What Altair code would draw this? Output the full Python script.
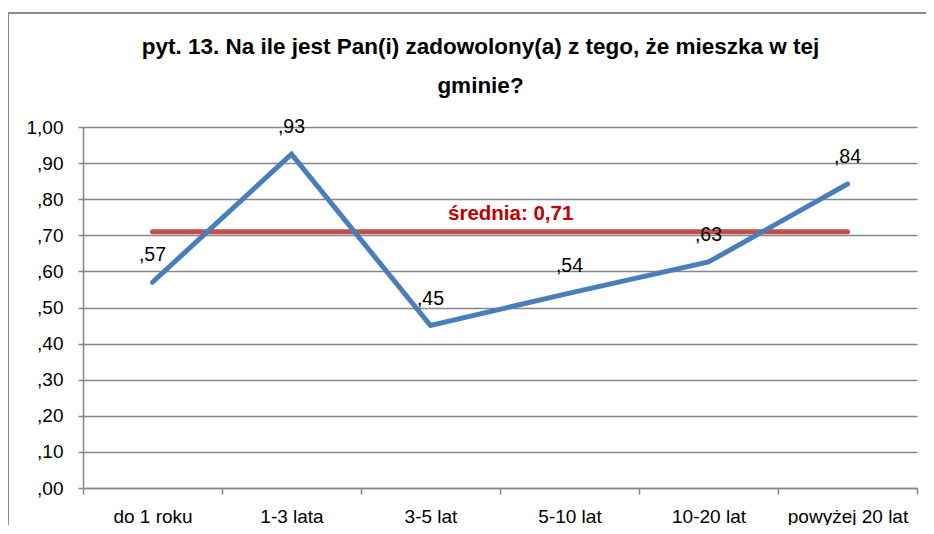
import altair as alt
import pandas as pd

categories = ["do 1 roku", "1-3 lata", "3-5 lat", "5-10 lat", "10-20 lat", "powyżej 20 lat"]
values = [0.57, 0.925, 0.45, 0.54, 0.626, 0.842]
average = 0.71
avg_text = "średnia: 0,71"
title_lines = ["pyt. 13. Na ile jest Pan(i) zadowolony(a) z tego, że mieszka w tej", "gminie?"]
y_ticks = [0.0, 0.1, 0.2, 0.3, 0.4, 0.5, 0.6, 0.7, 0.8, 0.9, 1.0]

FONT = "Liberation Sans"
GRAY = "#878787"

df = pd.DataFrame({
    "cat": categories,
    "val": values,
    "avg": [average] * len(categories),
    "lab": ["," + f"{v:.2f}".split(".")[1] for v in values],
})
df_avg_lab = pd.DataFrame({"cat": ["3-5 lat"], "avg": [average], "t": [avg_text]})
df_one = pd.DataFrame({"k": [0]})

x_axis = alt.Axis(
    title=None, labelAngle=0, tickBand="extent", domainColor=GRAY, domainWidth=1.5,
    tickColor=GRAY, tickWidth=1.5, tickSize=6, labelPadding=13, labelOverlap=False,
    labelFont=FONT, labelFontSize=19, labelColor="#000000",
)
x_scale = alt.Scale(paddingInner=0, paddingOuter=0)
y_axis = alt.Axis(
    title=None, values=y_ticks, grid=True, gridColor=GRAY, gridWidth=1.5,
    domainColor=GRAY, domainWidth=1.5, tickColor=GRAY, tickWidth=1.5, tickSize=5,
    labelPadding=15, labelFont=FONT, labelFontSize=19, labelColor="#000000",
    labelOverlap=False, labelFlush=False,
    labelExpr="datum.value >= 1 ? '1,00' : slice(replace(format(datum.value, '.2f'), '.', ','), 1)",
)
y_scale = alt.Scale(domain=[0, 1], nice=False, zero=True)


def X():
    return alt.X("cat:N", sort=categories, scale=x_scale, axis=x_axis)


def Y(field):
    return alt.Y(field, scale=y_scale, axis=y_axis)


avg_line = alt.Chart(df).mark_line(color="#C0504D", strokeWidth=5, strokeCap="round").encode(
    x=X(), y=Y("avg:Q")
)
main_line = alt.Chart(df).mark_line(color="#4A7EBB", strokeWidth=5, strokeCap="round", strokeJoin="miter").encode(
    x=X(), y=Y("val:Q")
)
value_labels = alt.Chart(df).mark_text(
    baseline="alphabetic", dy=-21, font=FONT, fontSize=19.5, color="#000000"
).encode(x=X(), y=Y("val:Q"), text="lab:N")
avg_label = alt.Chart(df_avg_lab).mark_text(
    align="left", baseline="alphabetic", dx=17.5, dy=-12, font=FONT, fontSize=20.5,
    fontWeight="bold", color="#C00000",
).encode(x=X(), y=Y("avg:Q"), text="t:N")

border_left = alt.Chart(df_one).mark_rule(color="#8a8a8a", strokeWidth=2).encode(
    x=alt.value(-75), y=alt.value(-114), y2=alt.value(420)
)
border_top = alt.Chart(df_one).mark_rule(color="#8a8a8a", strokeWidth=2).encode(
    x=alt.value(-76), x2=alt.value(860), y=alt.value(-114)
)

chart = alt.layer(
    avg_line, main_line, value_labels, avg_label, border_left, border_top
).properties(
    width=834,
    height=361,
    autosize=alt.AutoSizeParams(type="none"),
    padding={"left": 75, "top": 119, "right": 9, "bottom": 37},
    title=alt.TitleParams(
        text=title_lines, font=FONT, fontSize=22.5, fontWeight="bold", color="#000000",
        anchor="middle", frame="group", dx=-19.5, lineHeight=39, offset=-85,
    ),
).configure_view(stroke=None)

chart.save("out.html", embed_options={"renderer": "svg", "actions": False})
